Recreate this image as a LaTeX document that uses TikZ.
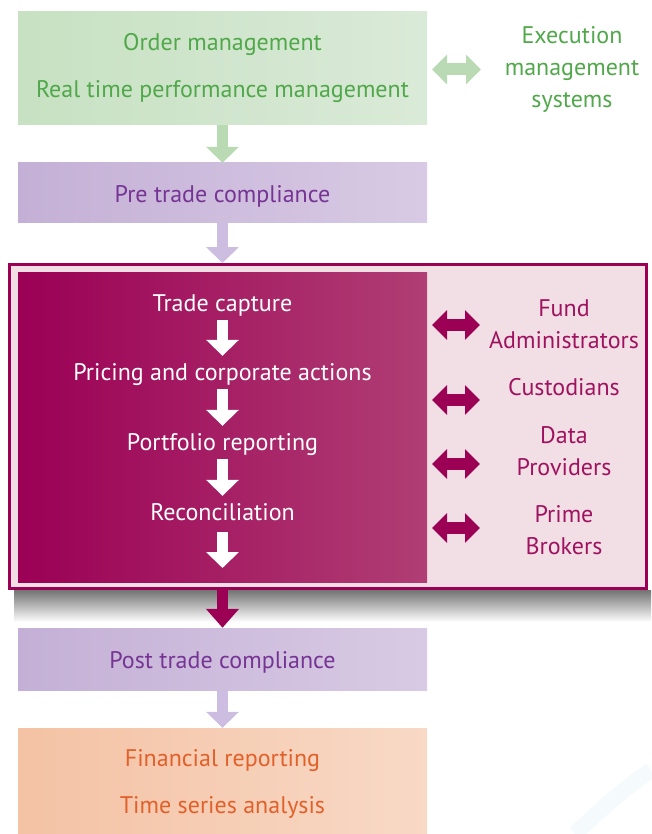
\documentclass[tikz,border=0pt]{standalone}
\usepackage{fontspec}
\setmainfont{PT Sans}
\usetikzlibrary{arrows.meta}

\definecolor{grntext}{RGB}{80,168,74}
\definecolor{grnleft}{RGB}{199,225,194}
\definecolor{grnright}{RGB}{218,234,216}
\definecolor{grnarrow}{RGB}{186,218,180}
\definecolor{purtext}{RGB}{118,52,148}
\definecolor{purleft}{RGB}{196,176,214}
\definecolor{purright}{RGB}{216,202,228}
\definecolor{purarrow}{RGB}{205,189,224}
\definecolor{magdark}{RGB}{155,0,85}
\definecolor{maglight}{RGB}{176,62,116}
\definecolor{magtext}{RGB}{160,18,95}
\definecolor{pinkbg}{RGB}{242,223,230}
\definecolor{orgtext}{RGB}{226,96,42}
\definecolor{orgleft}{RGB}{244,194,164}
\definecolor{orgright}{RGB}{248,217,198}
\definecolor{swirl}{RGB}{222,238,248}

\newcommand\twoline{\fontsize{24}{47}\selectfont}
\newcommand\oneline{\fontsize{24}{32}\selectfont}

\begin{document}
\begin{tikzpicture}
	[x=1pt,y=-1pt,
	box/.style={minimum width=409pt,inner sep=0pt},
	boxtext/.style={inner sep=0pt,align=center,font=\twoline},
	side/.style={inner sep=0pt,align=center,font=\oneline},
	flowtext/.style={inner sep=0pt,text=white,font=\oneline,text height=21pt,text depth=5pt},
	downarrow/.style={line width=11pt,-{Triangle[width=32pt,length=16pt]}},
	duoarrow/.style={line width=12pt,{Triangle[width=29pt,length=15pt]}-{Triangle[width=29pt,length=15pt]}}]
	\useasboundingbox (0,0) rectangle (651,834);
	\draw[line width=16pt,swirl,opacity=.3] (575,834) .. controls (610,800) and (630,785) .. (651,770);
	
	% top part
	\node[box,minimum height=113pt,left color=grnleft,right color=grnright] (order) at (222.5,68.5) {};
	\node[boxtext,text=grntext] (ordertext) at (222.5,68) {Order management\\Real time performance management};
	\node[side,text=grntext] (exec) at (572,69) {Execution\\management\\systems};
	\node[box,minimum height=60pt,left color=purleft,right color=purright] (pre) at (222.5,193) {};
	\node[boxtext,text=purtext] (pretext) at (222.5,196) {Pre trade compliance};
	
	% middle part
	\shade[top color=black!55,bottom color=white] (14,590) rectangle (651,622);
	\node[draw=magdark,line width=3pt,fill=pinkbg,minimum width=637pt,minimum height=324pt] (big) at (328,426.5) {};
	\node[box,minimum height=310pt,left color=magdark,right color=maglight] (core) at (222.5,427) {};
	\node[flowtext] (capture) at (222.5,303) {Trade capture};
	\node[flowtext] (pricing) at (222.5,372) {Pricing and corporate actions};
	\node[flowtext] (portfolio) at (222.5,442) {Portfolio reporting};
	\node[flowtext] (recon) at (222.5,512) {Reconciliation};
	\coordinate (coreout) at (222.5,568);
	
	\node[side,text=magtext] (fund) at (564,324) {Fund\\Administrators};
	\node[side,text=magtext] (cust) at (564,387) {Custodians};
	\node[side,text=magtext] (data) at (564,451) {Data\\Providers};
	\node[side,text=magtext] (prime) at (564,530) {Prime\\Brokers};
	
	% bottom part
	\node[box,minimum height=62pt,left color=purleft,right color=purright] (post) at (222.5,659) {};
	\node[boxtext,text=purtext] (posttext) at (222.5,662) {Post trade compliance};
	\node[box,minimum height=106pt,left color=orgleft,right color=orgright] (fin) at (222.5,781) {};
	\node[boxtext,text=orgtext] (fintext) at (222.5,784) {Financial reporting\\Time series analysis};
	
	% arrows
	\coordinate (ga) at (432,69.5);
	\coordinate (gb) at (481,69.5);
	\draw[duoarrow,grnarrow] (ga) -- (gb);
	\draw[downarrow,grnarrow] (order.south) -- (pre.north);
	\draw[downarrow,purarrow] (pre.south) -- (big.north -| pre.south);
	\foreach \from/\to in {capture/pricing,pricing/portfolio,portfolio/recon}
	\draw[downarrow,white,shorten <=4pt,shorten >=3pt] (\from) -- (\to);
	\draw[downarrow,white,shorten <=7pt] (recon) -- (coreout);
	\foreach \y [count=\i] in {325,400,464,528}{
		\coordinate (la\i) at (432,\y);
		\coordinate (lb\i) at (480,\y);
		\draw[duoarrow,magdark] (la\i) -- (lb\i);
	}
	\draw[downarrow,magdark,-{Triangle[width=32pt,length=19pt]}] (big.south -| post.north) -- (post.north);
	\draw[downarrow,purarrow] (post.south) -- (fin.north);
\end{tikzpicture}
\end{document}
